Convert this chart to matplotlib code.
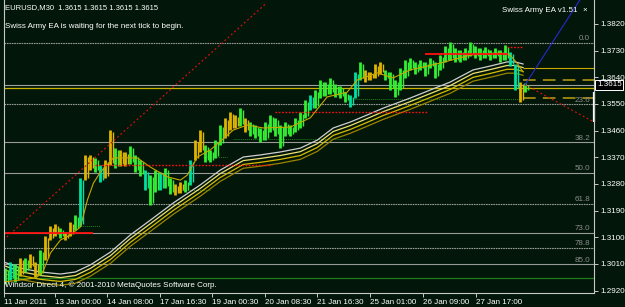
import matplotlib
matplotlib.use('Agg')
import matplotlib.pyplot as plt
import numpy as np

# chart data (EURUSD M30)
bar_x = np.arange(5, 526, 5)
bar_high = [1.2996, 1.3017, 1.3010, 1.3030, 1.3030, 1.3044, 1.3017, 1.3057, 1.3104, 1.3138,
            1.3145, 1.3131, 1.3118, 1.3152, 1.3175, 1.3300, 1.3378, 1.3378, 1.3368, 1.3344,
            1.3361, 1.3462, 1.3401, 1.3395, 1.3388, 1.3408, 1.3378, 1.3361, 1.3327, 1.3310,
            1.3327, 1.3320, 1.3334, 1.3300, 1.3280, 1.3287, 1.3293, 1.3361, 1.3428, 1.3462,
            1.3412, 1.3395, 1.3428, 1.3479, 1.3503, 1.3523, 1.3513, 1.3536, 1.3503, 1.3489,
            1.3479, 1.3469, 1.3489, 1.3513, 1.3503, 1.3479, 1.3489, 1.3479, 1.3503, 1.3523,
            1.3563, 1.3580, 1.3597, 1.3631, 1.3624, 1.3638, 1.3617, 1.3611, 1.3590, 1.3580,
            1.3658, 1.3692, 1.3665, 1.3658, 1.3685, 1.3692, 1.3665, 1.3658, 1.3631, 1.3671,
            1.3698, 1.3705, 1.3692, 1.3698, 1.3692, 1.3705, 1.3692, 1.3715, 1.3746, 1.3759,
            1.3739, 1.3732, 1.3739, 1.3759, 1.3746, 1.3739, 1.3742, 1.3732, 1.3739, 1.3732,
            1.3749, 1.3725, 1.3685, 1.3624, 1.3621]
bar_low = [1.2942, 1.2956, 1.2949, 1.2969, 1.2983, 1.2996, 1.2966, 1.2973, 1.3023, 1.3091,
           1.3104, 1.3098, 1.3091, 1.3104, 1.3125, 1.3138, 1.3293, 1.3327, 1.3320, 1.3287,
           1.3300, 1.3344, 1.3334, 1.3341, 1.3341, 1.3347, 1.3320, 1.3307, 1.3260, 1.3209,
           1.3253, 1.3260, 1.3266, 1.3246, 1.3243, 1.3250, 1.3253, 1.3277, 1.3361, 1.3388,
           1.3354, 1.3354, 1.3368, 1.3412, 1.3435, 1.3462, 1.3469, 1.3476, 1.3455, 1.3442,
           1.3435, 1.3422, 1.3428, 1.3455, 1.3442, 1.3401, 1.3442, 1.3442, 1.3455, 1.3469,
           1.3503, 1.3530, 1.3536, 1.3570, 1.3577, 1.3584, 1.3574, 1.3570, 1.3557, 1.3540,
           1.3570, 1.3631, 1.3624, 1.3631, 1.3638, 1.3651, 1.3631, 1.3597, 1.3574, 1.3597,
           1.3638, 1.3665, 1.3651, 1.3665, 1.3644, 1.3671, 1.3638, 1.3665, 1.3692, 1.3698,
           1.3692, 1.3692, 1.3698, 1.3712, 1.3705, 1.3698, 1.3705, 1.3698, 1.3705, 1.3692,
           1.3698, 1.3678, 1.3597, 1.3557, 1.3590]
bar_kind = ("gcgygyygyy" "ygyygcyygc" "yygyygggcg" "gcggyygcyy" "ggggyyygyg"
            "gggggggggg" "gcgggggggc" "cgyyyygggg" "gggggggggg" "gggggggggg" "gccyg")

slow_x = [3, 20, 40, 60, 75, 90, 110, 130, 150, 173, 200, 220, 243, 260, 280, 300,
          317, 333, 350, 367, 383, 410, 450, 473, 490, 507, 515, 523]
slow_ma = [1.3017, 1.2996, 1.2983, 1.2976, 1.2983, 1.3007, 1.3050, 1.3108, 1.3158, 1.3216,
           1.3277, 1.3327, 1.3371, 1.3378, 1.3388, 1.3401, 1.3428, 1.3469, 1.3489, 1.3513,
           1.3536, 1.3570, 1.3624, 1.3665, 1.3678, 1.3692, 1.3692, 1.3685]
band_offsets = [0.0, -0.0012, -0.0025, -0.0038]

fast_x = [3, 20, 35, 42, 50, 60, 70, 80, 87, 93, 100, 113, 137, 150, 167, 180, 187, 197,
          210, 233, 247, 263, 290, 310, 327, 347, 357, 377, 393, 410, 440, 470, 500, 510, 517, 523]
fast_ma = [1.2949, 1.2956, 1.2963, 1.2980, 1.3047, 1.3091, 1.3108, 1.3135, 1.3226, 1.3283,
           1.3320, 1.3368, 1.3368, 1.3337, 1.3304, 1.3293, 1.3310, 1.3371, 1.3395, 1.3462,
           1.3479, 1.3469, 1.3472, 1.3503, 1.3574, 1.3590, 1.3631, 1.3655, 1.3638, 1.3665,
           1.3688, 1.3715, 1.3722, 1.3715, 1.3688, 1.3658]

fib_names = ['0.0', '23.6', '38.2', '50.0', '61.8', '73.0', '78.8', '85.0']
fib_prices = [1.3757, 1.3549, 1.3421, 1.3317, 1.3213, 1.3115, 1.3065, 1.3009]
fib_dotted = [True, True, False, False, True, False, True, False]

bid = 1.3615
# horizontal segments: (start, end, price)
red_solid = [(3, 93, 1.3116), (425, 508, 1.3718)]
red_dotted = [(95, 272, 1.3343), (275, 427, 1.3522), (507, 523, 1.3743)]
green_dotted = [(77, 100, 1.3138), (180, 210, 1.3260), (203, 227, 1.3371),
                (233, 350, 1.3432), (353, 520, 1.3567)]
# trend lines: ((x0, p0), (x1, p1))
red_trend = [((3, 1.3091), (265, 1.3887)), ((525, 1.3615), (594, 1.3489))]
blue_trend = ((525, 1.3615), (585, 1.3928))

time_pos = [3, 55, 107, 160, 212, 265, 317, 370, 423, 476]
time_labels = ['11 Jan 2011', '13 Jan 00:00', '14 Jan 08:00', '17 Jan 16:30', '19 Jan 00:30',
               '20 Jan 08:30', '21 Jan 16:30', '25 Jan 01:00', '26 Jan 09:00', '27 Jan 17:00']
price_ticks = [1.3820, 1.3730, 1.3640, 1.3550, 1.3460, 1.3370, 1.3280, 1.3190, 1.3100, 1.3010, 1.2920]

W, H = 625, 307
BG = '#021709'
FONT = ['Liberation Sans', 'DejaVu Sans']
FS = 5.8
plt.rcParams['font.family'] = FONT

fig = plt.figure(figsize=(W / 100, H / 100), dpi=100, facecolor=BG)
ax = fig.add_axes([3.5 / W, 14 / H, (594 - 3.5) / W, 293 / H], facecolor=BG)
ax.set_xlim(3.5, 594)
ax.set_ylim(1.2912, 1.3901)

# fibonacci levels
for name, p, dotted in zip(fib_names, fib_prices, fib_dotted):
    ax.axhline(p, color='#9a9a9a', lw=0.8, ls=(0, (1.5, 0.7)) if dotted else '-')
    ax.text(590, p + 0.0002, name, color='#8c8c8c', fontsize=FS, ha='right', va='bottom')

# long horizontal lines
ax.axhline(1.2964, color='#1d7a1d', lw=0.9)
ax.axhline(bid, color='#a0a0a0', lw=0.8)
ax.axhline(1.3604, color='#c8b400', lw=0.9)
ax.hlines(1.3671, 523, 594, color='#c8a800', lw=0.8)
for p in [1.3631, 1.3569]:
    ax.hlines(p, 523, 594, color='#a08a10', lw=1.3, linestyles=(0, (7, 4)))

for x0, x1, p in green_dotted:
    ax.hlines(p, x0, x1, color='#1f7f1f', lw=0.7, linestyles=(0, (1, 1)))

# moving average band
band_cols = ['#cfcfcf', '#efe070', '#d8bc00', '#9c8400']
for off, c in zip(band_offsets, band_cols):
    ax.plot(slow_x, np.array(slow_ma) + off, color=c, lw=0.9)

# price bars
cols = [{'g': '#33f033', 'c': '#00e0a0', 'y': '#e0b400'}[k] for k in bar_kind]
ax.vlines(bar_x, bar_low, bar_high, colors=cols, lw=2.0)
ax.vlines(bar_x + 2.5, np.array(bar_low) + 0.0008, np.array(bar_high) - 0.0006,
          colors=cols, lw=1.0)

ax.plot(fast_x, fast_ma, color='#c8a800', lw=0.8)

# red lines
for x0, x1, p in red_solid:
    ax.hlines(p, x0, x1, color='#ff1010', lw=1.3)
for x0, x1, p in red_dotted:
    ax.hlines(p, x0, x1, color='#ff1010', lw=1.0, linestyles=(0, (1.2, 1.2)))
for (x0, p0), (x1, p1) in red_trend:
    ax.plot([x0, x1], [p0, p1], color='#d01010', lw=0.9, ls=(0, (1.5, 2)))
ax.plot([blue_trend[0][0], blue_trend[1][0]], [blue_trend[0][1], blue_trend[1][1]],
        color='#2828d0', lw=0.8)

# axes styling
for s in ['left', 'bottom', 'right']:
    ax.spines[s].set_color('#c8c8c8')
    ax.spines[s].set_linewidth(0.8)
ax.spines['top'].set_visible(False)
ax.yaxis.tick_right()
ax.set_yticks(price_ticks)
ax.set_yticklabels(['%.4f' % p for p in price_ticks])
ax.set_xticks(time_pos)
ax.set_xticklabels(time_labels)
ax.tick_params(colors='#c8c8c8', labelcolor='white', labelsize=FS, length=3, width=0.7, pad=1.5)
for lab in ax.get_xticklabels():
    lab.set_horizontalalignment('left')

# bid price box
ax.text(597, bid, '%.4f' % bid, color='white', fontsize=FS, ha='left', va='center',
        clip_on=False, bbox=dict(boxstyle='square,pad=0.2', fc='black', ec='white', lw=0.7))
ax.vlines(594.5, 1.3489, 1.3590, color='white', lw=1.6, clip_on=False)

# texts
fig.text(5 / W, 1 - 8 / H, 'EURUSD,M30  1.3615 1.3615 1.3615 1.3615', color='white',
         fontsize=5.5, va='center')
fig.text(5 / W, 1 - 26 / H, 'Swiss Army EA is waiting for the next tick to begin.',
         color='white', fontsize=FS, va='center')
fig.text(502 / W, 1 - 10 / H, 'Swiss Army EA v1.51', color='white', fontsize=FS, va='center')
fig.text(585 / W, 1 - 10 / H, '×', color='white', fontsize=FS, va='center', ha='center')
fig.text(5 / W, 1 - 285 / H, 'Windsor Direct 4, © 2001-2010 MetaQuotes Software Corp.',
         color='white', fontsize=FS, va='center')

fig.savefig('out.png', dpi=100, facecolor=BG)
